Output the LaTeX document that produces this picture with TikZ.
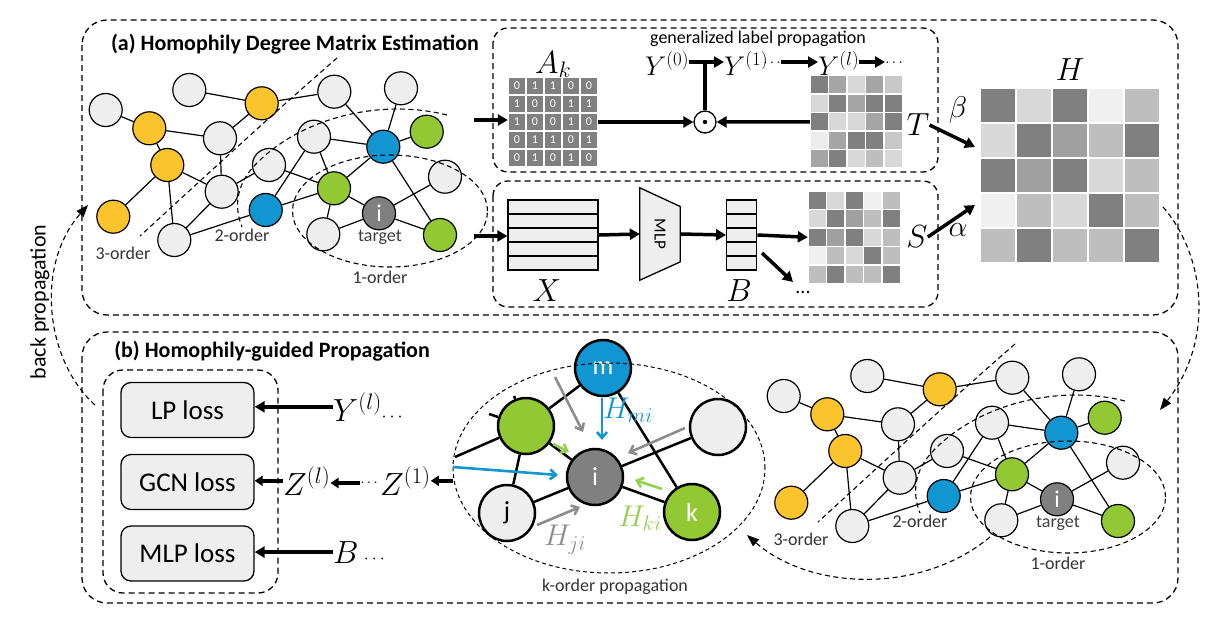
\RequirePackage{fix-cm}
\documentclass[tikz,border=0pt]{standalone}
\usepackage{fontspec}
\setmainfont{Carlito}
\usetikzlibrary{arrows.meta,shapes.geometric,calc}
\pgfdeclarelayer{bg}
\pgfsetlayers{bg,main}
\definecolor{ngray}{RGB}{238,238,238}
\definecolor{nyellow}{RGB}{252,196,44}
\definecolor{nblue}{RGB}{18,150,210}
\definecolor{ngreen}{RGB}{146,200,52}
\definecolor{ndark}{RGB}{128,128,128}
\definecolor{hgreen}{RGB}{146,208,80}
\definecolor{agray}{RGB}{140,140,140}
\tikzset{
 gn/.style={circle, draw, line width=1.2pt, minimum size=33pt, inner sep=0pt, fill=ngray},
 yn/.style={gn, fill=nyellow},
 bn/.style={gn, fill=nblue},
 grn/.style={gn, fill=ngreen},
 dn/.style={gn, fill=ndark, text=white, font=\fontsize{24}{24}\selectfont},
 gedge/.style={line width=1.2pt},
 bound/.style={dash pattern=on 5pt off 3.5pt, line width=1.1pt},
 olbl/.style={font=\fontsize{18}{18}\selectfont, text=black!80, inner sep=0pt},
 dbox/.style={draw, dash pattern=on 6pt off 4pt, line width=1.3pt},
 bigarrow/.style={-{Triangle[length=10pt,width=11pt]}, line width=3.5pt},
 smallarrow/.style={-{Triangle[length=8pt,width=10pt]}, line width=3.5pt},
 mlbl/.style={font=\fontsize{32}{32}\selectfont, inner sep=0pt},
 ylbl/.style={font=\fontsize{27}{27}\selectfont, inner sep=0pt},
 dotlbl/.style={font=\fontsize{15}{15}\selectfont, inner sep=0pt},
 kn/.style={circle, draw, line width=2.5pt, minimum size=56pt, inner sep=0pt, font=\fontsize{26}{26}\selectfont},
 lossn/.style={draw, line width=1.3pt, rounded corners=10pt, fill=ngray, minimum width=133pt, minimum height=55pt, font=\fontsize{27}{27}\selectfont},
 thinarrow/.style={-{Straight Barb[length=6pt,width=10pt]}, line width=2.6pt},
 dashtip/.style={-{Triangle[length=12pt,width=9pt]}},
}
\newcommand\gmat[6]{%
 \foreach \rowv [count=\ri from 0] in {#6} {
  \foreach \v [count=\ci from 0] in \rowv {
   \definecolor{cc}{RGB}{\v,\v,\v}
   \fill[cc] ({#1+\ci*#3+#5/2},{#2+\ri*#4+#5/2}) rectangle ++({#3-#5},{#4-#5});
  }}}
\newcommand\hgraph[2]{%
\begin{scope}[shift={(#1)}, name prefix=#2-]
\node[gn]  (n1)  at (105.7,110) {};
\node[gn]  (n2)  at (189.3,90) {};
\node[yn]  (n3)  at (261.7,103.3) {};
\node[gn]  (n4)  at (334.3,91.7) {};
\node[gn]  (n5)  at (401,88.3) {};
\node[yn]  (n6)  at (149.3,128.3) {};
\node[gn]  (n7)  at (220,138.3) {};
\node[gn]  (n8)  at (314,136.7) {};
\node[bn]  (n9)  at (383.3,146.7) {};
\node[grn] (n10) at (426.7,131.7) {};
\node[yn]  (n11) at (167.3,165) {};
\node[gn]  (n12) at (269,165) {};
\node[gn]  (n13) at (221.7,191.7) {};
\node[grn] (n14) at (334,188.3) {};
\node[gn]  (n15) at (445,176.7) {};
\node[yn]  (n16) at (113.3,216.7) {};
\node[bn]  (n17) at (265.7,210) {};
\node[dn]  (n18) at (379,213.3) {i};
\node[gn]  (n19) at (174.3,240) {};
\node[gn]  (n20) at (323.3,234.3) {};
\node[grn] (n21) at (440,235) {};
\begin{pgfonlayer}{bg}
\draw[gedge] (n1)--(n6) (n6)--(n7) (n6)--(n11) (n2)--(n3) (n3)--(n4) (n3)--(n7)
 (n7)--(n13) (n11)--(n16) (n11)--(n13) (n11)--(n19) (n13)--(n19) (n13)--(n12)
 (n12)--(n14) (n8)--(n17) (n8)--(n9) (n8)--(n14) (n4)--(n9) (n5)--(n9) (n9)--(n10)
 (n9)--(n14) (n9)--(n21) (n14)--(n18) (n14)--(n20) (n17)--(n19) (n17)--(n14)
 (n18)--(n15) (n18)--(n20) (n18)--(n21);
\end{pgfonlayer}
\node[olbl, text=black!75] (tg) at (380,237) {target};
\draw[bound] (337,58) .. controls (260,125) and (185,195) .. (140,236);
\draw[bound] (447,115) .. controls (380,98) and (300,118) .. (255,165) .. controls (236,185) and (234,207) .. (242,227);
\node[ellipse, draw, bound, minimum width=195pt, minimum height=112pt] (o1) at (390,211) {};
\node[olbl] (l3) at (123,253) {3-order};
\node[olbl] (l2) at (242,235) {2-order};
\node[olbl] (l1) at (380,277) {1-order};
\end{scope}}
\begin{document}
\begin{tikzpicture}[x=1pt,y=-1pt]
\useasboundingbox (0,0) rectangle (1220,616);
% frames
\draw[dbox, rounded corners=25pt] (82,20) rectangle (1178,315);
\draw[dbox, rounded corners=25pt] (82,332) rectangle (1178,603);
\draw[dbox, rounded corners=15pt] (493,28) rectangle (938,172);
\draw[dbox, rounded corners=15pt] (493,181) rectangle (938,307);
\draw[dbox, rounded corners=20pt] (103,370) rectangle (278,593);
\node[font=\bfseries\fontsize{22}{22}\selectfont] (ta) at (295,44) {(a) Homophily Degree Matrix Estimation};
\node[font=\bfseries\fontsize{22}{22}\selectfont] (tb) at (272,351) {(b) Homophily-guided Propagation};
% graphs
\hgraph{0,0}{a}
\hgraph{678,286}{b}
% ---------- label propagation box
\gmat{508}{77}{18}{18}{1.6}{{128,128,128,128,128},{128,128,128,128,128},{128,128,128,128,128},{128,128,128,128,128},{128,128,128,128,128}}
\foreach \rowv [count=\ri from 0] in {{0,1,1,0,0},{1,0,0,1,1},{1,0,0,1,0},{0,1,1,0,1},{0,1,0,1,0}} {
 \foreach \v [count=\ci from 0] in \rowv {
  \node[text=white, font=\fontsize{12}{12}\selectfont, inner sep=0pt] (ak-\ri-\ci) at ({508+\ci*18+9},{77+\ri*18+9}) {\v};
 }}
\node[minimum width=90pt, minimum height=90pt, inner sep=0pt] (Akm) at (553,122) {};
\node[mlbl, anchor=base west] (Ak) at (535,73) {$A_k$};
\gmat{810}{75.5}{18.5}{18.5}{1.6}{{128,165,216,165,200},{216,128,165,128,128},{128,216,216,165,128},{236,165,128,128,200},{165,128,216,190,216}}
\node[minimum width=92.5pt, minimum height=92.5pt, inner sep=0pt] (Tmat) at (856.25,121.75) {};
\node[font=\fontsize{18}{18}\selectfont] (gl) at (758,39) {generalized label propagation};
\node[ylbl, anchor=base west] (Y0) at (645,75) {$Y^{(0)}$};
\node[ylbl, anchor=base west] (Y1) at (724,75) {$Y^{(1)}$};
\node[dotlbl] (y1d) at (772,63) {$\cdots$};
\node[ylbl, anchor=base west] (Yl) at (818,75) {$Y^{(l)}$};
\node[dotlbl] (yld) at (894,63) {$\cdots$};
\coordinate (yline) at (0,62);
\node[circle, draw, line width=1.3pt, minimum size=22pt, inner sep=0pt] (od) at (705,122) {};
\fill (od.center) circle (2.2pt);
\draw[bigarrow] (Y0.east |- yline) -- (Y1.west |- yline);
\draw[bigarrow] (y1d.east |- yline) -- (Yl.west |- yline);
\draw[bigarrow] (Yl.east |- yline) -- (yld.west |- yline);
\draw[line width=3.5pt] (od.north) -- (od.north |- yline);
\coordinate (ga) at (474,120);
\draw[bigarrow] (ga) -- (ga -| Akm.west);
\draw[bigarrow] (Akm.east) -- (od.west);
\draw[bigarrow] (Tmat.west) -- (od.east);
\node[mlbl] (Tl) at (918,125) {$T$};
% ---------- MLP box
\node[draw, line width=1.3pt, fill=ngray, minimum width=90pt, minimum height=70pt, inner sep=0pt] (X) at (553,235) {};
\foreach \yy in {214,228,242,256} \draw[line width=1.3pt] (508,\yy) -- (598,\yy);
\node[mlbl] (Xl) at (547,291) {$X$};
\node[minimum width=40pt, minimum height=92pt, inner sep=0pt] (mlp) at (660,234) {\rotatebox{-90}{\fontsize{17}{17}\selectfont MLP}};
\begin{pgfonlayer}{bg}
\draw[line width=1.3pt, fill=ngray] (mlp.north west) -- ($(mlp.north east)+(0,18.7)$) -- ($(mlp.south east)+(0,-18.3)$) -- (mlp.south west) -- cycle;
\end{pgfonlayer}
\node[draw, line width=1.3pt, fill=ngray, minimum width=30pt, minimum height=70pt, inner sep=0pt] (Bv) at (741.7,235) {};
\foreach \yy in {214,228,242,256} \draw[line width=1.3pt] (726.7,\yy) -- (756.7,\yy);
\node[mlbl] (Bl) at (739,291) {$B$};
\gmat{808}{191}{18.5}{18.5}{1.6}{{128,216,128,240,190},{216,128,160,190,128},{128,160,128,216,190},{240,190,216,128,190},{190,128,190,190,128}}
\node[minimum width=92.5pt, minimum height=92.5pt, inner sep=0pt] (Smat) at (854.25,237.25) {};
\node[mlbl] (Sl) at (917,237) {$S$};
\coordinate (gx) at (474,236);
\draw[bigarrow] (gx) -- (gx -| X.west);
\draw[bigarrow] (X.east) -- (mlp.west);
\draw[bigarrow] (mlp.east) -- (Bv.west);
\draw[bigarrow] (Bv.east) -- (Smat.west);
\coordinate (bd1) at (762,253);
\coordinate (bd2) at (793,282);
\draw[bigarrow] (bd1) -- (bd2);
\node[font=\fontsize{20}{20}\selectfont] (bdd) at (803,292) {...};
% ---------- H
\gmat{980}{88}{36}{35}{2.5}{{128,216,128,240,190},{216,128,160,190,128},{128,160,128,216,190},{240,190,216,128,190},{190,128,190,190,128}}
\node[minimum width=180pt, minimum height=175pt, inner sep=0pt] (Hmat) at (1070,175.5) {};
\node[mlbl] (Hl) at (1070,70) {$H$};
\coordinate (hT) at (975,147);
\coordinate (hS) at (975,205);
\draw[bigarrow] (Tl.east) -- (hT);
\draw[bigarrow] (Sl.east) -- (hS);
\node[font=\fontsize{30}{30}\selectfont] (beta) at (958,110) {$\beta$};
\node[font=\fontsize{30}{30}\selectfont] (alpha) at (958,230) {$\alpha$};
\coordinate (hd1) at (1163,207);
\coordinate (hd2) at (1160,410);
\draw[bound, dashtip] (hd1) .. controls (1205,255) and (1215,340) .. (hd2);
% ---------- back propagation
\coordinate (bp1) at (95,405);
\coordinate (bp2) at (88,205);
\draw[bound, dashtip] (bp1) .. controls (45,360) and (35,265) .. (bp2);
\node[rotate=90, font=\fontsize{22}{22}\selectfont] (bpl) at (40,302) {back propagation};
% ---------- losses
\node[lossn] (lp) at (187.5,410) {LP loss};
\node[lossn] (gcn) at (187.5,482) {GCN loss};
\node[lossn] (mlpl) at (187.5,553.5) {MLP loss};
\node[mlbl, anchor=base west] (Ybl) at (333,421) {$Y^{(l)}$\fontsize{18}{18}\selectfont$\cdots$};
\draw[bigarrow] (Ybl.west) -- (Ybl.west -| lp.east);
\node[mlbl, anchor=base west] (Zl) at (283,495) {$Z^{(l)}$};
\node[dotlbl] (zd) at (369,483) {$\cdots$};
\node[mlbl, anchor=base west] (Z1) at (380,495) {$Z^{(1)}$};
\draw[smallarrow] (zd.west) -- (zd.west -| Zl.east);
\draw[smallarrow] (Zl.west) -- (Zl.west -| gcn.east);
\node[mlbl, anchor=base west] (Bb) at (333,563) {$B$\,\fontsize{18}{18}\selectfont$\cdots$};
\draw[bigarrow] (Bb.west) -- (Bb.west -| mlpl.east);
% ---------- k-order propagation
\node[kn, fill=nblue, text=white] (km) at (603,368) {m};
\node[kn, fill=ngreen] (kg) at (526,426) {};
\node[kn, fill=ngray] (kr) at (718,427) {};
\node[kn, fill=ndark, text=white] (ki) at (595,477) {i};
\node[kn, fill=ngray] (kj) at (507,513) {j};
\node[kn, fill=ngreen, text=white] (kk) at (692,512) {k};
\coordinate (ks0) at (455,457);
\coordinate (ks1) at (489,414);
\coordinate (ks2) at (514,396);
\begin{pgfonlayer}{bg}
\draw[line width=2.5pt] (km)--(kg) (km)--(kk) (kg)--(ki) (kg)--(kj) (kg)--(ks0)
 (kj)--(ki) (ki)--(kr) (ki)--(kk) (kg)--(ks1) (kg)--(ks2);
\end{pgfonlayer}
\node[ellipse, draw, dash pattern=on 4pt off 3pt, line width=1pt, minimum width=312pt, minimum height=210pt] (kell) at (609,468) {};
\node[olbl] (kol) at (615,587) {k-order propagation};
\draw[smallarrow] (kell.west |- Z1.east) -- (Z1.east);
\coordinate (a1s) at (555,377); \coordinate (a1e) at (583,432);
\coordinate (a2s) at (685,428); \coordinate (a2e) at (628,453);
\coordinate (a3s) at (537,525); \coordinate (a3e) at (580,507);
\coordinate (b1s) at (602,398); \coordinate (b1e) at (602,440);
\coordinate (b2s) at (453,467); \coordinate (b2e) at (558,475);
\coordinate (c1s) at (553,444); \coordinate (c1e) at (569,452);
\coordinate (c2s) at (662,489); \coordinate (c2e) at (635,480);
\draw[thinarrow, agray] (a1s) -- (a1e);
\draw[thinarrow, agray] (a2s) -- (a2e);
\draw[thinarrow, agray] (a3s) -- (a3e);
\draw[thinarrow, nblue] (b1s) -- (b1e);
\draw[thinarrow, nblue] (b2s) -- (b2e);
\draw[thinarrow, hgreen] (c1s) -- (c1e);
\draw[thinarrow, hgreen] (c2s) -- (c2e);
\node[font=\fontsize{30}{30}\selectfont, text=nblue] (hmi) at (628,410) {$H_{mi}$};
\node[font=\fontsize{30}{30}\selectfont, text=hgreen] (hki) at (640,518) {$H_{ki}$};
\node[font=\fontsize{30}{30}\selectfont, text=agray] (hji) at (565,540) {$H_{ji}$};
\coordinate (kin1) at (990,537);
\coordinate (kin2) at (747,535);
\draw[bound, dashtip] (kin1) .. controls (920,595) and (810,590) .. (kin2);
\end{tikzpicture}
\end{document}
